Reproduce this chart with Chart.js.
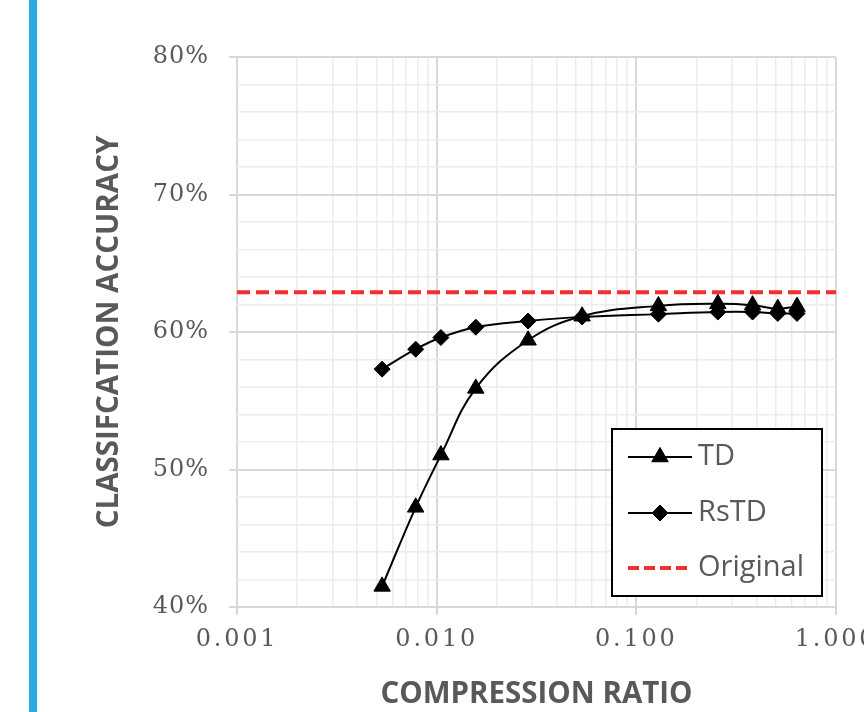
<!DOCTYPE html>
<html>
<head>
<meta charset="utf-8">
<script src="https://cdn.jsdelivr.net/npm/chart.js@4/dist/chart.umd.min.js"></script>
<style>
html,body{margin:0;padding:0;background:#fff;}
#wrap{position:relative;width:864px;height:712px;overflow:hidden;background:#fff;}
#bar{position:absolute;left:29px;top:0;width:8px;height:712px;background:#29abe2;}
canvas{position:absolute;left:0;top:0;}
</style>
</head>
<body>
<div id="wrap"><canvas id="c" width="864" height="712"></canvas><div id="bar"></div></div>
<script>
// ---- data ----
const compressionRatio = [0.00533, 0.00785, 0.0105, 0.0157, 0.0287, 0.0535, 0.129, 0.256, 0.382, 0.511, 0.638];
const tdAccuracy   = [41.5, 47.25, 51.05, 55.9, 59.4, 61.15, 61.9, 62.05, 61.95, 61.7, 61.85];
const rstdAccuracy = [57.3, 58.75, 59.6, 60.35, 60.8, 61.1, 61.3, 61.45, 61.45, 61.35, 61.35];
const originalAccuracy = 62.9;
const originalX = [0.001, 1];
const seriesNames = ['TD', 'RsTD', 'Original'];
const xTickValues = [0.001, 0.01, 0.1, 1];
const xTickLabels = ['0.001', '0.010', '0.100', '1.000'];
const yTickValues = [40, 50, 60, 70, 80];
const yTickLabels = ['40%', '50%', '60%', '70%', '80%'];
const xTitle = 'COMPRESSION RATIO';
const yTitle = 'CLASSIFCATION ACCURACY';

// minor log grid positions (axis structure)
const xGrid = [];
for (let d = 0; d < xTickValues.length - 1; d++) {
  for (let k = 1; k <= 9; k++) xGrid.push(parseFloat((k * xTickValues[d]).toPrecision(6)));
}
xGrid.push(xTickValues[xTickValues.length - 1]);

const TEXT = '#595959';
const MAJOR = '#d9d9d9';
const MINOR = '#ececec';
const RED = '#f03030';

const spacingPlugin = {
  id: 'spacedLabels',
  beforeDraw(chart) {
    const sp = {x: '2.8px', y: '1px'};
    for (const id of ['x', 'y']) {
      const s = chart.scales[id];
      if (s && !s._spaced) {
        const orig = s.drawLabels;
        s.drawLabels = function (a) {
          const c = this.ctx; c.save(); c.letterSpacing = sp[id]; orig.call(this, a); c.restore();
        };
        s._spaced = true;
      }
    }
  }
};

const legendPlugin = {
  id: 'boxLegend',
  afterDraw(chart) {
    const ctx = chart.ctx;
    const bx = 612, by = 429, bw = 210, bh = 167;
    ctx.save();
    ctx.fillStyle = '#fff';
    ctx.fillRect(bx, by, bw, bh);
    ctx.strokeStyle = '#000';
    ctx.lineWidth = 2;
    ctx.strokeRect(bx, by, bw, bh);
    const rows = [457, 513, 568];
    chart.data.datasets.forEach((ds, i) => {
      const y = rows[i];
      ctx.save();
      ctx.strokeStyle = ds.borderColor;
      ctx.lineWidth = ds.legendLineWidth || ds.borderWidth;
      ctx.setLineDash(ds.legendDash || []);
      ctx.beginPath(); ctx.moveTo(628, y); ctx.lineTo(692, y); ctx.stroke();
      ctx.restore();
      if (ds.pointRadius > 0) {
        ctx.fillStyle = ds.pointBackgroundColor;
        ctx.strokeStyle = ds.pointBorderColor;
        ctx.lineWidth = 1;
        Chart.helpers.drawPoint(ctx, {pointStyle: ds.pointStyle, radius: ds.pointRadius, rotation: 0, borderWidth: 1}, 660, y);
      }
      ctx.fillStyle = TEXT;
      ctx.font = '29px "Open Sans"';
      ctx.textBaseline = 'middle';
      ctx.textAlign = 'left';
      ctx.fillText(ds.label, 698, y);
    });
    ctx.restore();
  }
};

new Chart(document.getElementById('c'), {
  type: 'line',
  data: {
    datasets: [
      {
        label: seriesNames[0],
        data: compressionRatio.map((x, i) => ({x, y: tdAccuracy[i]})),
        borderColor: '#000', borderWidth: 2, tension: 0.4,
        pointStyle: 'triangle', pointRadius: 9.5, pointBackgroundColor: '#000', pointBorderColor: '#000', pointBorderWidth: 1
      },
      {
        label: seriesNames[1],
        data: compressionRatio.map((x, i) => ({x, y: rstdAccuracy[i]})),
        borderColor: '#000', borderWidth: 2, tension: 0.4,
        pointStyle: 'rectRot', pointRadius: 8, pointBackgroundColor: '#000', pointBorderColor: '#000', pointBorderWidth: 1
      },
      {
        label: seriesNames[2],
        data: originalX.map(x => ({x, y: originalAccuracy})),
        borderColor: RED, borderWidth: 4, borderDash: [13, 6], legendDash: [11, 5],
        pointRadius: 0, pointBackgroundColor: RED, pointBorderColor: RED
      }
    ]
  },
  options: {
    responsive: false, animation: false, devicePixelRatio: 1,
    layout: {padding: {left: 88, top: 57, right: 28, bottom: 0}},
    plugins: {legend: {display: false}, tooltip: {enabled: false}},
    scales: {
      x: {
        type: 'logarithmic', position: 'bottom', min: xTickValues[0], max: xTickValues[xTickValues.length - 1],
        afterBuildTicks(s) { s.ticks = xGrid.map(v => ({value: v, major: xTickValues.includes(v)})); },
        afterFit(s) { s.height = 105; s.paddingLeft = 0; s.paddingRight = 0; },
        ticks: {
          autoSkip: false, maxRotation: 0, minRotation: 0, padding: 10, color: TEXT,
          font: {family: 'DejaVu Serif', size: 24},
          callback(v, i, t) { const k = xTickValues.indexOf(v); return k >= 0 ? xTickLabels[k] : ''; }
        },
        grid: {
          color: c => (c.tick && c.tick.major) ? MAJOR : MINOR,
          lineWidth: c => (c.tick && c.tick.major) ? 2 : 1.5,
          tickLength: 8, tickWidth: 2,
          tickColor: c => (c.tick && c.tick.major) ? MAJOR : 'rgba(0,0,0,0)'
        },
        border: {display: false},
        title: {display: true, text: xTitle, color: TEXT, font: {family: 'Open Sans', size: 29.5, weight: 'bold'}, padding: {top: 0, bottom: 0}}
      },
      y: {
        type: 'linear', position: 'left', min: yTickValues[0], max: yTickValues[yTickValues.length - 1],
        afterFit(s) { s.width = 149; s.paddingTop = 0; s.paddingBottom = 0; },
        ticks: {
          stepSize: 2, autoSkip: false, padding: 20, color: TEXT,
          font: {family: 'DejaVu Serif', size: 24},
          callback(v) { const k = yTickValues.indexOf(v); return k >= 0 ? yTickLabels[k] : ''; }
        },
        grid: {
          color: c => (c.tick && yTickValues.includes(c.tick.value)) ? MAJOR : MINOR,
          lineWidth: c => (c.tick && yTickValues.includes(c.tick.value)) ? 2 : 1.5,
          tickLength: 8, tickWidth: 2,
          tickColor: c => (c.tick && yTickValues.includes(c.tick.value)) ? MAJOR : 'rgba(0,0,0,0)'
        },
        border: {display: false},
        title: {display: true, text: yTitle, color: TEXT, font: {family: 'Open Sans', size: 29.5, weight: 'bold'}, padding: {top: 4, bottom: 0}}
      }
    }
  },
  plugins: [spacingPlugin, legendPlugin]
});
</script>
</body>
</html>
